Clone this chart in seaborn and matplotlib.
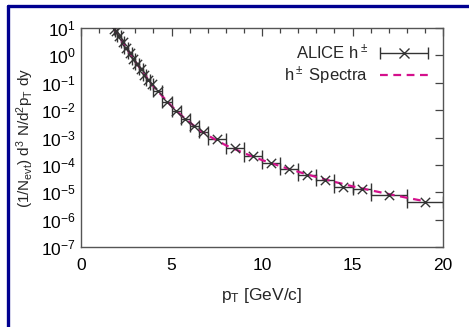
import numpy as np
import pandas as pd
import matplotlib
matplotlib.use("Agg")
import matplotlib.pyplot as plt
import seaborn as sns
from matplotlib.lines import Line2D
from matplotlib.legend_handler import HandlerErrorbar

# ALICE h± data
pt = [1.85, 1.95, 2.1, 2.3, 2.5, 2.7, 2.9, 3.1, 3.3, 3.5, 3.7, 3.9,
      4.25, 4.75, 5.25, 5.75, 6.25, 6.75, 7.5, 8.5, 9.5, 10.5, 11.5,
      12.5, 13.5, 14.5, 15.5, 17.0, 19.0]
pt_err = [0.05, 0.05, 0.1, 0.1, 0.1, 0.1, 0.1, 0.1, 0.1, 0.1, 0.1, 0.1,
          0.25, 0.25, 0.25, 0.25, 0.25, 0.25, 0.5, 0.5, 0.5, 0.5, 0.5,
          0.5, 0.5, 0.5, 0.5, 1.0, 1.0]
yield_alice = [9.0, 7.5, 5.0, 3.0, 1.9, 1.2, 0.75, 0.48, 0.31, 0.2, 0.13, 0.088,
               0.048, 0.02, 0.0095, 0.0048, 0.0027, 0.0016, 9e-4, 4.2e-4, 2.2e-4,
               1.2e-4, 7e-5, 4.4e-5, 2.9e-5, 1.6e-5, 1.3e-5, 8.2e-6, 4.4e-6]

# h± spectra curve
curve_pt = [1.8, 2.0, 2.5, 3.0, 3.5, 4.0, 4.5, 5.0, 5.5, 6.0, 6.5, 7.0, 8.0, 9.0,
            10.0, 11.0, 12.0, 13.0, 14.0, 15.0, 16.0, 17.0, 18.0, 19.0]
curve_y = [10.0, 6.5, 1.9, 0.6, 0.2, 0.075, 0.032, 0.014, 0.0068, 0.0036, 0.002,
           0.0012, 5.2e-4, 2.7e-4, 1.5e-4, 9e-5, 5.6e-5, 3.6e-5, 2.4e-5, 1.65e-5,
           1.18e-5, 8.6e-6, 6.3e-6, 4.7e-6]

sns.set_style("white")
plt.rcParams['font.family'] = ['Liberation Sans', 'DejaVu Sans']
plt.rcParams['mathtext.fontset'] = 'custom'
plt.rcParams['mathtext.rm'] = 'Liberation Sans'
plt.rcParams['mathtext.it'] = 'Liberation Sans'

fig = plt.figure(figsize=(4.69, 3.27), dpi=100)
ax = fig.add_axes([81/469, 1-247/327, (443-81)/469, (247-28)/327])

MAG = "#d4108c"
DARK = "#333333"

df_c = pd.DataFrame({"pt": curve_pt, "y": curve_y})
sns.lineplot(data=df_c, x="pt", y="y", ax=ax, color=MAG, lw=1.6,
             linestyle=(0, (3.5, 2.5)), zorder=3)

df = pd.DataFrame({"pt": pt, "y": yield_alice, "err": pt_err})
ax.errorbar(df["pt"], df["y"], xerr=df["err"], fmt="none", ecolor=DARK,
            elinewidth=1.0, capsize=4, capthick=1.0, zorder=2)
sns.scatterplot(data=df, x="pt", y="y", ax=ax, marker="x", color=DARK,
                s=45, linewidth=1.0, zorder=4)

ax.set_yscale("log")
ax.set_xlim(0, 20)
ax.set_ylim(1e-7, 10)
ax.set_xticks([0, 5, 10, 15, 20])
ax.set_xticks(np.arange(0, 21, 1), minor=True)
ax.set_yticks([10.0**k for k in range(-7, 2)])
ax.set_yticklabels([f"$10^{{{k}}}$" for k in range(-7, 2)])
ax.yaxis.set_minor_locator(matplotlib.ticker.NullLocator())
ax.tick_params(which="both", direction="in", top=True, right=True,
               colors="#444444", labelcolor="black", labelsize=12.5)
ax.tick_params(which="major", length=6, width=0.9)
ax.tick_params(which="minor", length=3.5, width=0.9)
ax.tick_params(axis="x", pad=8)
for s in ax.spines.values():
    s.set_color("#555555")
    s.set_linewidth(1.0)

ax.set_xlabel(r"p$_\mathrm{T}$ [GeV/c]", fontsize=12.5, labelpad=9)
ax.set_ylabel(r"(1/N$_\mathrm{evt}$) d$^3$ N/d$^2$p$_\mathrm{T}$ dy", fontsize=11, labelpad=4)

h1 = ax.errorbar([np.nan], [np.nan], xerr=[1.0], fmt="x", color=DARK, ms=6.5,
                 capsize=4, elinewidth=1.0, markeredgewidth=1.0)
h2 = Line2D([], [], color=MAG, lw=1.6, linestyle=(0, (3.5, 2.5)))
leg = ax.legend([h1, h2], [r"ALICE h$^\pm$", r"h$^\pm$ Spectra"], loc="upper right",
                frameon=False, markerfirst=False, fontsize=12, handlelength=2.9,
                borderaxespad=0.5, labelspacing=0.15, handletextpad=0.7,
                handler_map={type(h1): HandlerErrorbar(xerr_size=1.45)})
for t in leg.get_texts():
    t.set_ha("right")
leg._legend_box.align = "right"

# navy border on top and left
fig.add_artist(Line2D([7.5/469, 1], [1-6/327, 1-6/327], color="#000090", lw=2.4,
                      transform=fig.transFigure))
fig.add_artist(Line2D([7.5/469, 7.5/469], [1-6/327, 0], color="#000090", lw=2.4,
                      transform=fig.transFigure))

fig.savefig("out.png", dpi=100)
